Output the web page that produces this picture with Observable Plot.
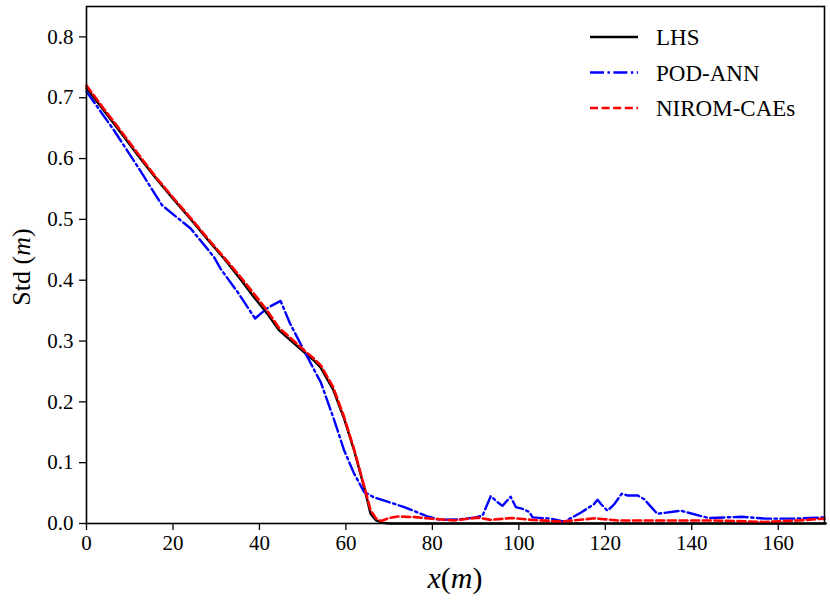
<!DOCTYPE html>
<html>
<head>
<meta charset="utf-8">
<script src="https://cdn.jsdelivr.net/npm/d3@7"></script>
<script src="https://cdn.jsdelivr.net/npm/@observablehq/plot@0.6"></script>
<style>
  html, body { margin: 0; padding: 0; background: white; }
  #chart svg { display: block; }
</style>
</head>
<body>
<div id="chart"></div>
<script>
// ---- Data ----
const seriesNames = ["LHS", "POD-ANN", "NIROM-CAEs"];

const lhsX = [0, 4, 8, 12, 16, 20, 24, 28, 32, 36, 38.7, 41.8, 44.5, 47.2, 50.3, 52.6, 54.2, 55.7, 57, 59.6, 61.9, 64.2, 65.7, 67, 68.5, 70, 171];
const lhsY = [0.716, 0.679, 0.642, 0.604, 0.568, 0.534, 0.501, 0.467, 0.434, 0.398, 0.3725, 0.345, 0.318, 0.301, 0.282, 0.268, 0.256, 0.237, 0.221, 0.172, 0.120, 0.060, 0.016, 0.005, 0.001, 0, 0];

const podX = [0, 6.3, 12, 17.5, 24.1, 29.5, 31, 35, 39, 40.3, 42, 44.9, 47, 50.7, 54.2, 57.2, 59.6, 61.9, 64.2, 66.5, 70, 73.5, 78.9, 82, 86.6, 90, 91.6, 93.5, 95.1, 96.2, 98.1, 99.3, 100.9, 102.4, 103.2, 107.4, 110.5, 114.4, 117.4, 118.2, 119, 120.5, 122.1, 123.8, 125.2, 127.5, 129, 132, 137.5, 143.9, 151.5, 157, 163.5, 170.7];
const podY = [0.710, 0.647, 0.585, 0.523, 0.485, 0.438, 0.419, 0.380, 0.337, 0.345, 0.355, 0.366, 0.330, 0.279, 0.232, 0.172, 0.120, 0.082, 0.052, 0.043, 0.035, 0.027, 0.0115, 0.006, 0.007, 0.010, 0.013, 0.045, 0.035, 0.029, 0.044, 0.027, 0.024, 0.019, 0.010, 0.008, 0.003, 0.018, 0.032, 0.039, 0.032, 0.021, 0.032, 0.049, 0.046, 0.046, 0.040, 0.016, 0.021, 0.009, 0.011, 0.008, 0.008, 0.010];

const niromX = [0, 4, 8, 12, 16, 20, 24, 28, 32, 36, 38.7, 41.8, 44.5, 47.2, 50.3, 52.6, 54.2, 55.7, 57, 59.6, 61.9, 64.2, 65.7, 67, 68.2, 70, 72, 76, 80, 85, 90.5, 93.5, 98.3, 103, 109.7, 117.5, 123, 130, 140, 145, 150, 156.6, 164.6, 170.7];
const niromY = [0.720, 0.682, 0.645, 0.607, 0.570, 0.536, 0.503, 0.469, 0.436, 0.402, 0.378, 0.350, 0.322, 0.305, 0.285, 0.271, 0.260, 0.241, 0.225, 0.175, 0.122, 0.062, 0.022, 0.008, 0.004, 0.009, 0.0115, 0.0105, 0.0077, 0.005, 0.0097, 0.006, 0.009, 0.006, 0.003, 0.0085, 0.005, 0.005, 0.005, 0.005, 0.004, 0.0025, 0.005, 0.008];

const xTicks = [0, 20, 40, 60, 80, 100, 120, 140, 160];
const yTicks = [0.0, 0.1, 0.2, 0.3, 0.4, 0.5, 0.6, 0.7, 0.8];

// ---- Build tables ----
const lhs = lhsX.map((x, i) => ({x, y: lhsY[i]}));
const pod = podX.map((x, i) => ({x, y: podY[i]}));
const nirom = niromX.map((x, i) => ({x, y: niromY[i]}));

const styles = {
  "LHS": {stroke: "black", dash: null, width: 2.4},
  "POD-ANN": {stroke: "#0000ff", dash: "14,3.5,2.4,3.5", width: 2.4},
  "NIROM-CAEs": {stroke: "#ff0000", dash: "8,3.6", width: 2.6}
};

const FONT = "'Liberation Serif', 'DejaVu Serif', serif";

const chart = Plot.plot({
  width: 830,
  height: 604,
  marginLeft: 86,
  marginRight: 6,
  marginTop: 6,
  marginBottom: 81,
  style: {fontFamily: FONT, fontSize: "21px", background: "white", color: "black", overflow: "visible"},
  x: {domain: [0, 170.7]},
  y: {domain: [0, 0.85]},
  marks: [
    Plot.axisX({ticks: xTicks, tickSize: 7, tickPadding: 5, tickFormat: d => String(d), label: null, fontSize: 21, strokeWidth: 1.3}),
    Plot.axisY({ticks: yTicks, tickSize: 7, tickPadding: 6, tickFormat: d3.format(".1f"), label: null, fontSize: 21, strokeWidth: 1.3}),
    Plot.line(lhs, {x: "x", y: "y", stroke: styles["LHS"].stroke, strokeWidth: styles["LHS"].width, strokeLinejoin: "round"}),
    Plot.line(pod, {x: "x", y: "y", stroke: styles["POD-ANN"].stroke, strokeWidth: styles["POD-ANN"].width, strokeDasharray: styles["POD-ANN"].dash}),
    Plot.line(nirom, {x: "x", y: "y", stroke: styles["NIROM-CAEs"].stroke, strokeWidth: styles["NIROM-CAEs"].width, strokeDasharray: styles["NIROM-CAEs"].dash}),
    Plot.frame({stroke: "black", strokeWidth: 1.6})
  ]
});

document.getElementById("chart").appendChild(chart);

// ---- Axis labels and legend ----
const svg = d3.select(chart);
const ns = svg.append("g").attr("font-family", FONT).attr("fill", "black");

// Y label: Std (m)
const yl = ns.append("text")
  .attr("transform", "translate(30,267) rotate(-90)")
  .attr("text-anchor", "middle")
  .attr("font-size", 26);
yl.append("tspan").text("Std (");
yl.append("tspan").attr("font-style", "italic").text("m");
yl.append("tspan").text(")");

// X label: x(m)
const xl = ns.append("text")
  .attr("x", 455).attr("y", 588)
  .attr("text-anchor", "middle")
  .attr("font-size", 30);
xl.append("tspan").attr("font-style", "italic").text("x");
xl.append("tspan").text("(");
xl.append("tspan").attr("font-style", "italic").text("m");
xl.append("tspan").text(")");

// Legend
const leg = ns.append("g");
seriesNames.forEach((name, i) => {
  const cy = 37 + i * 35.5;
  const st = styles[name];
  const ln = leg.append("line")
    .attr("x1", 590).attr("x2", 638).attr("y1", cy).attr("y2", cy)
    .attr("stroke", st.stroke).attr("stroke-width", st.width);
  if (st.dash) ln.attr("stroke-dasharray", st.dash);
  leg.append("text")
    .attr("x", 656).attr("y", cy).attr("dy", "0.35em")
    .attr("text-anchor", "start")
    .attr("font-size", 23)
    .text(name);
});
</script>
</body>
</html>
